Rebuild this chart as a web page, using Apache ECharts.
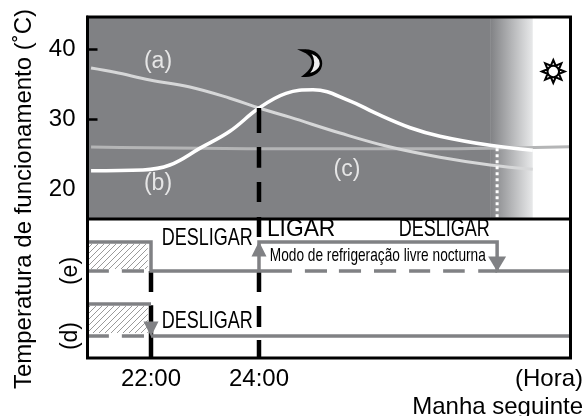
<!DOCTYPE html>
<html>
<head>
<meta charset="utf-8">
<title>Temperatura de funcionamento</title>
<script src="https://cdn.jsdelivr.net/npm/echarts@6/dist/echarts.min.js"></script>
<style>
html, body { margin: 0; padding: 0; background: #fff; }
#chart { width: 584px; height: 416px; }
</style>
</head>
<body>
<div id="chart"></div>
<script>
// time is in hours, 24 = midnight, 28 = 04:00 next morning
const hourMin = 20.824;
const hourMax = 29.769;
const tempMin = 15.82;
const tempMax = 44.55;

const tempTickLabels = [40, 30, 20];
const tempTickMarks = [40, 30];
const hourTicks = [22, 24];

// (a)
const hoursA = [20.89, 21.33, 21.98, 22.72, 23.46, 24, 24.57, 25.5, 26.43, 27.35, 28.28, 29.07];
const tempA = [37.3, 36.7, 35.6, 34.6, 33.0, 31.6, 30.3, 28.05, 26.05, 24.6, 23.5, 22.9];
// (b)
const hoursB = [20.89, 21.85, 22.35, 22.91, 23.46, 24, 24.5, 25, 25.69, 26.15, 26.8, 27.35, 28.28, 29.07];
const tempB = [22.7, 22.8, 23.5, 25.9, 28.3, 31.6, 33.7, 34.2, 32.6, 30.9, 28.8, 27.6, 26.3, 25.6];
// (c)
const hoursC = [20.89, 24.57, 27.17, 28.46, 29.76];
const tempC = [26.05, 25.8, 25.8, 25.9, 26.1];

const nightEnd = 28.28;
const dawnEnd = 29.07;
const coolEnd = 28.41;

// lower panel, arbitrary state levels on a 0-10 axis
const eOn = 8.35;
const eOff = 6.26;
const dOn = 3.88;
const dOff = 1.58;
const hatchEnd = 21.94;
const hatchE = [6.4, 8.2];
const hatchD = [1.8, 3.75];

const offDashes = [[20.83, 21.22], [21.46, 21.87]];
const coolDashes = [[24.85, 25.26], [25.48, 25.89], [26.13, 26.54], [26.78, 27.17], [27.41, 27.81], [28.06, 28.41]];

const dash24Upper = [[31.6, 28.05], [26.05, 23.1], [21.1, 18.25], [16.1, 15.82]];
const dash24Lower = [[10, 8.7], [6.26, 4.75], [3.74, 2.23], [1.29, 0]];
const dash22Lower = [[6.26, 4.75], [3.8, 0]];

const curveLabels = [['(a)', 22.13, 38.15], ['(b)', 22.13, 20.8], ['(c)', 25.63, 22.8]];
const stateLabels = [
    ['DESLIGAR', 23.04, 8.63],
    ['DESLIGAR', 23.04, 2.63],
    ['DESLIGAR', 27.43, 9.24],
    ['LIGAR', 24.78, 9.24],
    ['Modo de refrigeração livre nocturna', 26.2, 7.34]
];

const GREY = '#808184';
const FONT = '"Liberation Sans", Arial, sans-serif';

function pairs(xs, ys) {
    return xs.map((x, i) => [x, ys[i]]);
}

// vertical pieces at one hour, nulls break the line
function vertical(hour, pieces) {
    const out = [];
    pieces.forEach(p => {
        out.push([hour, p[0]], [hour, p[1]], [hour, null]);
    });
    return out;
}

function horizontal(level, pieces) {
    const out = [];
    pieces.forEach(p => {
        out.push([p[0], level], [p[1], level], [null, level]);
    });
    return out;
}

function hatchPattern() {
    const c = document.createElement('canvas');
    c.width = 6;
    c.height = 6;
    const g = c.getContext('2d');
    g.fillStyle = '#fff';
    g.fillRect(0, 0, 6, 6);
    g.strokeStyle = '#9a9a9a';
    g.lineWidth = 1;
    g.beginPath();
    g.moveTo(-1, 7); g.lineTo(7, -1);
    g.moveTo(-1, 1); g.lineTo(1, -1);
    g.moveTo(5, 7); g.lineTo(7, 5);
    g.stroke();
    return { image: c, repeat: 'repeat' };
}

function sunPath() {
    let d = '';
    for (let i = 0; i < 16; i++) {
        const r = i % 2 ? 6.5 : 12;
        const a = i * Math.PI / 8 - Math.PI / 2;
        d += (i ? 'L' : 'M') + (12 + r * Math.cos(a)).toFixed(2) + ' ' + (12 + r * Math.sin(a)).toFixed(2);
    }
    return 'path://' + d + 'Z M18 12 A6 6 0 1 1 6 12 A6 6 0 1 1 18 12Z';
}

const moonPath = 'path://M0 0 C14 0 20 8 20 14 C20 21 12 27 1 27 C8 22 10 18 10 13 C10 8 7 3 0 0Z';

function upperLine(name, data, color, width, z) {
    return {
        name: name, type: 'line', xAxisIndex: 0, yAxisIndex: 0, data: data,
        smooth: 0.4, showSymbol: false, silent: true, z: z,
        lineStyle: { color: color, width: width }
    };
}

function lowerLine(name, data, color, width, z) {
    return {
        name: name, type: 'line', xAxisIndex: 1, yAxisIndex: 1, data: data,
        showSymbol: false, silent: true, connectNulls: false, z: z,
        lineStyle: { color: color, width: width, cap: 'butt', join: 'miter' }
    };
}

const chart = echarts.init(document.getElementById('chart'), null, { renderer: 'canvas' });

chart.setOption({
    animation: false,
    backgroundColor: '#fff',
    textStyle: { fontFamily: FONT },
    grid: [
        { left: 87.5, right: 13.5, top: 17, height: 202 },
        { left: 87.5, right: 13.5, top: 219, height: 139 }
    ],
    xAxis: [
        {
            type: 'value', gridIndex: 0, min: hourMin, max: hourMax,
            axisLine: { show: false }, axisTick: { show: false },
            axisLabel: { show: false }, splitLine: { show: false }
        },
        {
            type: 'value', gridIndex: 1, min: hourMin, max: hourMax,
            axisLine: { show: false }, axisTick: { show: false }, splitLine: { show: false },
            axisLabel: {
                customValues: hourTicks,
                formatter: v => v + ':00',
                color: '#000', fontSize: 24, fontFamily: FONT, margin: 9
            }
        }
    ],
    yAxis: [
        {
            type: 'value', gridIndex: 0, min: tempMin, max: tempMax, z: 10,
            axisLine: { show: true, lineStyle: { color: '#000', width: 3 } },
            splitLine: { show: false },
            axisTick: {
                show: true, customValues: tempTickMarks, inside: true, length: 10,
                lineStyle: { color: '#000', width: 2.5 }
            },
            axisLabel: {
                customValues: tempTickLabels,
                color: '#000', fontSize: 24, fontFamily: FONT, margin: 12, padding: [3, 0, 0, 0]
            }
        },
        {
            type: 'value', gridIndex: 1, min: 0, max: 10,
            axisLine: { show: false }, axisTick: { show: false }, splitLine: { show: false },
            axisLabel: {
                customValues: [dOff, eOff],
                formatter: v => (v === eOff ? '(e)' : '(d)'),
                rotate: 90, color: '#000', fontSize: 23, fontFamily: FONT, margin: 5
            }
        }
    ],
    series: [
        {
            name: 'fundo', type: 'line', xAxisIndex: 0, yAxisIndex: 0, data: [], z: 1, silent: true,
            markArea: {
                silent: true,
                data: [
                    [{ xAxis: hourMin, itemStyle: { color: GREY } }, { xAxis: nightEnd }],
                    [{
                        xAxis: nightEnd,
                        itemStyle: {
                            color: new echarts.graphic.LinearGradient(0, 0, 1, 0, [
                                { offset: 0, color: GREY },
                                { offset: 1, color: '#e8e9ea' }
                            ])
                        }
                    }, { xAxis: dawnEnd }]
                ]
            }
        },
        {
            name: 'hatch', type: 'line', xAxisIndex: 1, yAxisIndex: 1, data: [], z: 1, silent: true,
            markArea: {
                silent: true,
                itemStyle: { color: hatchPattern() },
                data: [
                    [{ coord: [hourMin, hatchE[0]] }, { coord: [hatchEnd, hatchE[1]] }],
                    [{ coord: [hourMin, hatchD[0]] }, { coord: [hatchEnd, hatchD[1]] }]
                ]
            }
        },
        upperLine('(c)', pairs(hoursC, tempC), '#b4b5b6', 3, 3),
        upperLine('(a)', pairs(hoursA, tempA), '#d6d7d8', 3, 4),
        upperLine('(b)', pairs(hoursB, tempB), '#fff', 3.5, 5),
        {
            name: 'fim', type: 'line', xAxisIndex: 0, yAxisIndex: 0, silent: true, showSymbol: false, z: 4,
            data: [[coolEnd, 25.9], [coolEnd, tempMin]],
            lineStyle: { color: '#fff', width: 3, type: [3, 3] }
        },
        {
            name: '24h', type: 'line', xAxisIndex: 0, yAxisIndex: 0, silent: true, showSymbol: false, z: 6,
            data: vertical(24, dash24Upper),
            lineStyle: { color: '#000', width: 4.5, cap: 'butt' }
        },
        lowerLine('24h baixo', vertical(24, dash24Lower), '#000', 4.5, 3),
        lowerLine('22h baixo', vertical(22, dash22Lower), '#000', 4.5, 3),
        lowerLine('e alto', [[hourMin, eOn], [22, eOn], [22, eOff], [24.61, eOff]], GREY, 3.5, 4),
        lowerLine('e ciclo', [[24, eOff], [24, eOn], [coolEnd, eOn], [coolEnd, eOff], [hourMax, eOff]], GREY, 3.5, 4),
        lowerLine('e off', horizontal(eOff, offDashes.concat(coolDashes)), GREY, 3.5, 4),
        lowerLine('d alto', [[hourMin, dOn], [22, dOn]], GREY, 3.5, 4),
        lowerLine('d', [[22, dOff], [hourMax, dOff]], GREY, 3.5, 4),
        lowerLine('d off', horizontal(dOff, offDashes), GREY, 3.5, 4),
        {
            name: 'seta cima', type: 'scatter', xAxisIndex: 1, yAxisIndex: 1, silent: true, z: 7,
            data: [[24, 7.84]], symbol: 'triangle', symbolSize: [15, 15], clip: false,
            itemStyle: { color: GREY, opacity: 1 }
        },
        {
            name: 'seta baixo e', type: 'scatter', xAxisIndex: 1, yAxisIndex: 1, silent: true, z: 7,
            data: [[coolEnd, 6.76]], symbol: 'triangle', symbolRotate: 180, symbolSize: [18, 15], clip: false,
            itemStyle: { color: GREY, opacity: 1 }
        },
        {
            name: 'seta baixo d', type: 'scatter', xAxisIndex: 1, yAxisIndex: 1, silent: true, z: 7,
            data: [[22, 2.09]], symbol: 'triangle', symbolRotate: 180, symbolSize: [15, 15], clip: false,
            itemStyle: { color: GREY, opacity: 1 }
        },
        {
            name: 'lua', type: 'scatter', xAxisIndex: 0, yAxisIndex: 0, silent: true, z: 7,
            data: [[25.0, 38]], symbol: moonPath, symbolSize: [16, 24],
            itemStyle: { color: '#eee', borderColor: '#000', borderWidth: 3, opacity: 1 }
        },
        {
            name: 'sol', type: 'scatter', xAxisIndex: 0, yAxisIndex: 0, silent: true, z: 7,
            data: [[29.45, 36.8]], symbol: sunPath(), symbolSize: [23, 23],
            itemStyle: { color: '#fff', borderColor: '#000', borderWidth: 2, opacity: 1 }
        },
        {
            name: 'curvas', type: 'scatter', xAxisIndex: 0, yAxisIndex: 0, silent: true, z: 8, symbolSize: 0,
            data: curveLabels.map(d => ({ value: [d[1], d[2]], name: d[0] })),
            label: {
                show: true, position: 'inside', formatter: '{b}',
                color: '#fff', fontSize: 23, fontFamily: FONT
            }
        }
    ]
});

// condensed lettering: no narrow face installed, so squeeze the text
function stateText(d) {
    const p = chart.convertToPixel({ xAxisIndex: 1, yAxisIndex: 1 }, [d[1], d[2]]);
    let size = 24;
    let squeeze = 0.75;
    if (d[0] === 'LIGAR') {
        squeeze = 0.95;
    } else if (d[0].indexOf('Modo') === 0) {
        size = 19;
        squeeze = 0.72;
    }
    return {
        type: 'text', z: 100, silent: true, x: p[0], y: p[1], scaleX: squeeze,
        style: {
            text: d[0], font: size + 'px ' + FONT, fill: '#000',
            align: 'center', verticalAlign: 'middle'
        }
    };
}

chart.setOption({
    graphic: [
        {
            type: 'rect', z: 100, silent: true,
            shape: { x: 87.5, y: 17, width: 483, height: 341 },
            style: { fill: null, stroke: '#000', lineWidth: 3 }
        },
        {
            type: 'line', z: 100, silent: true,
            shape: { x1: 87.5, y1: 219, x2: 570.5, y2: 219 },
            style: { stroke: '#000', lineWidth: 3 }
        },
        {
            type: 'text', z: 100, silent: true, x: 24, y: 199, rotation: Math.PI / 2,
            style: {
                text: 'Temperatura de funcionamento (˚C)', font: '24px ' + FONT, fill: '#000',
                align: 'center', verticalAlign: 'middle'
            }
        },
        {
            type: 'text', z: 100, silent: true, x: 583, y: 379,
            style: { text: '(Hora)', font: '24px ' + FONT, fill: '#000', align: 'right', verticalAlign: 'middle' }
        },
        {
            type: 'text', z: 100, silent: true, x: 583, y: 407,
            style: { text: 'Manha seguinte', font: '24px ' + FONT, fill: '#000', align: 'right', verticalAlign: 'middle' }
        }
    ].concat(stateLabels.map(stateText))
});
</script>
</body>
</html>
